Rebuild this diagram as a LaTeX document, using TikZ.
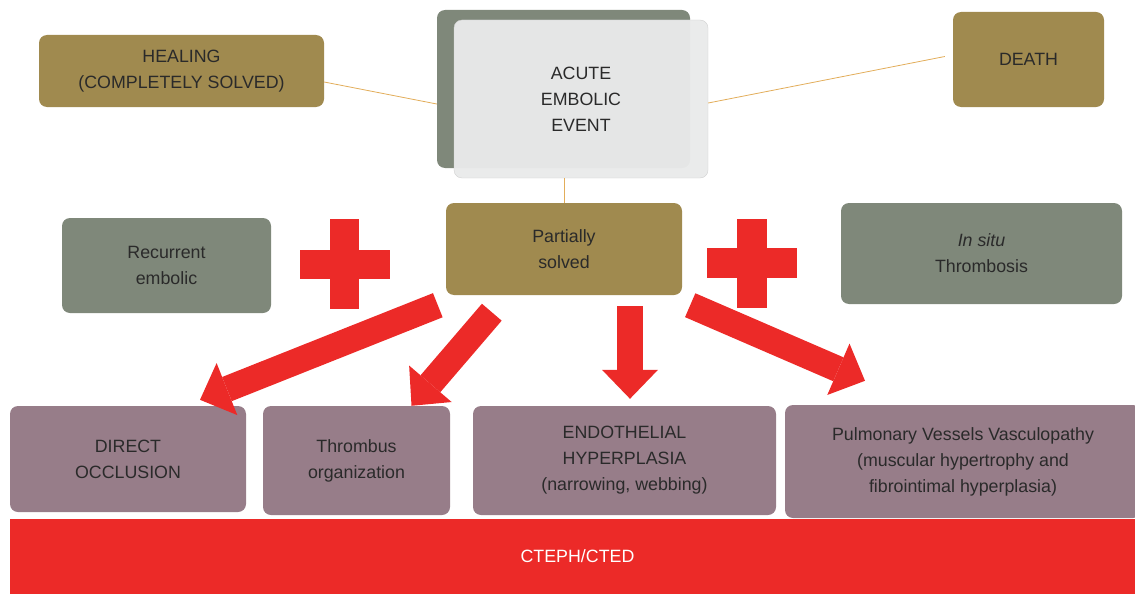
\documentclass[tikz,border=0pt]{standalone}
\usepackage{fontspec}
\setmainfont{Liberation Sans}
\usetikzlibrary{calc,arrows.meta}
\definecolor{goldc}{HTML}{A08A4F}
\definecolor{sagec}{HTML}{7F887A}
\definecolor{mauvec}{HTML}{977D89}
\definecolor{redc}{HTML}{EC2A28}
\definecolor{palec}{HTML}{E9EAEA}
\definecolor{linkc}{HTML}{E2AD5A}
\definecolor{textc}{HTML}{2A2A2A}
\tikzset{
  box/.style={rounded corners=8pt, align=center, inner sep=0pt, text=textc,
    font=\fontsize{17.8}{26}\selectfont},
  goldbox/.style={box, fill=goldc},
  sagebox/.style={box, fill=sagec},
  mauvebox/.style={box, fill=mauvec},
  link/.style={draw=linkc, line width=0.8pt},
  bigarrow/.style={draw=redc, line width=26pt,
    -{Triangle[width=56pt,length=29pt,line width=0pt,fill=redc]}},
}
\begin{document}
\begin{tikzpicture}[x=1pt,y=-1pt]
  \useasboundingbox (0,0) rectangle (1135,594);
  % top row
  \node[goldbox, minimum width=285pt, minimum height=72pt] (healing) at (181.5,71) {HEALING\\(COMPLETELY SOLVED)};
  \node[goldbox, minimum width=151pt, minimum height=95pt] (death) at (1028.5,59.5) {DEATH};
  \node[sagebox, minimum width=253pt, minimum height=158pt] (acuteback) at (563.5,89) {};
  \node[box, fill=palec, fill opacity=0.97, text opacity=1, draw=black!18, minimum width=254pt, minimum height=158pt] (acute) at (581,99) {ACUTE\\EMBOLIC\\EVENT};
  \draw[link] ($(healing.east)+(0,11)$) -- ($(acuteback.west)+(0,15)$);
  \draw[link] ($(acute.east)+(0,4)$) -- ($(death.west)+(-8,-3)$);
  % middle row
  \node[goldbox, minimum width=236pt, minimum height=92pt] (partial) at (564,249) {Partially\\solved};
  \draw[link] (partial.north) -- (partial.north |- acute.south);
  \node[sagebox, minimum width=209pt, minimum height=95pt] (recurrent) at (166.5,265.5) {Recurrent\\embolic};
  \node[sagebox, minimum width=281pt, minimum height=101pt] (insitu) at (981.5,253.5) {\textit{In situ}\\Thrombosis};
  \fill[redc] (330,219) rectangle (359,309);
  \fill[redc] (300,250) rectangle (390,279);
  \fill[redc] (737,219) rectangle (767,308);
  \fill[redc] (707,248) rectangle (797,278);
  % bottom row
  \node[mauvebox, minimum width=236pt, minimum height=106pt] (occlusion) at (128,459) {DIRECT\\OCCLUSION};
  \node[mauvebox, minimum width=187pt, minimum height=109pt] (organization) at (356.5,460.5) {Thrombus\\organization};
  \node[mauvebox, minimum width=303pt, minimum height=109pt] (endothelial) at (624.5,460.5) {ENDOTHELIAL\\HYPERPLASIA\\(narrowing, webbing)};
  \node[mauvebox, minimum width=356pt, minimum height=113pt] (vasculo) at (963,461.5) {Pulmonary Vessels Vasculopathy\\(muscular hypertrophy and\\fibrointimal hyperplasia)};
  \node[fill=redc, text=white, inner sep=0pt, minimum width=1135pt, minimum height=75pt,
    font=\fontsize{17.8}{26}\selectfont] (cteph) at (577.5,556.5) {CTEPH/CTED};
  % arrows
  \draw[bigarrow] ($(partial.south west)+(-8,10)$) -- ($(occlusion.north)+(72,-6)$);
  \draw[bigarrow] ($(partial.south west)+(46,17)$) -- ($(organization.north)+(55,0)$);
  \draw[bigarrow] ($(partial.south)+(66,11)$) -- ($(endothelial.north)+(5.5,-7)$);
  \draw[bigarrow] ($(partial.south east)+(8,10)$) -- ($(vasculo.north)+(-98,-24)$);
\end{tikzpicture}
\end{document}
